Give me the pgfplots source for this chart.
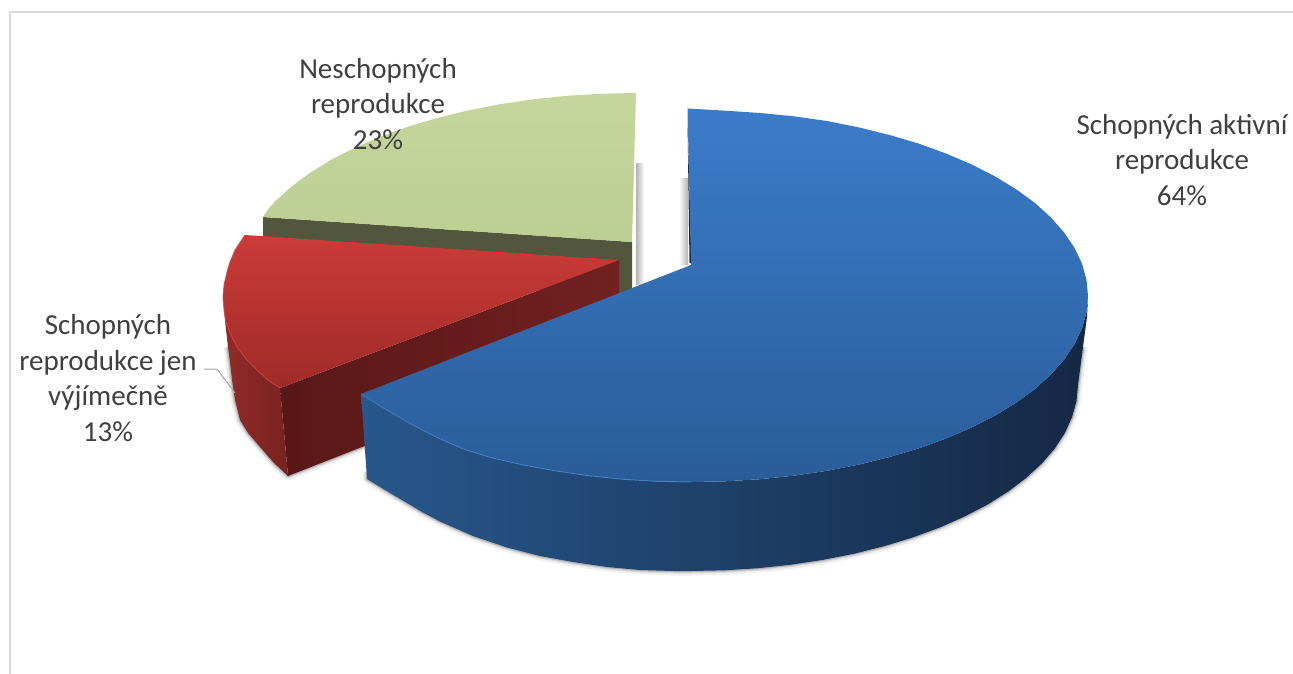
\documentclass[border=0pt]{standalone}
\usepackage{pgfplots}
\pgfplotsset{compat=1.18}
\usepackage{pgfplotstable}
\usepackage{fontspec}
\setmainfont{Carlito}

% Rim outlines of the slices, used for the soft drop shadows
\pgfplotstableread{
x y
367 472
367 479
385 490
407 503
423 512.5
440 521.5
473 536
507 547.5
540 556
573 562
607 567
640 570
673 571
691 571
724.7 570.3
758.2 568.2
791 564.7
823.4 559.8
854.6 553.6
884.5 546.1
913 537.4
939.8 527.5
964.6 516.5
987.5 504.6
1008 491.7
1026.1 478
1041.7 463.6
1054.7 448.6
1064.8 433.1
1072 417.3
1076.5 401.2
1078 385
1083 347
}\blueshadow
\pgfplotstableread{
x y
228 347
230 362
232 380
235 400
240 420
248 433
260 447
274 463
288 476
367 445
}\redshadow

\definecolor{labeltext}{HTML}{404040}
\definecolor{framegray}{HTML}{D9D9D9}
\definecolor{leader}{HTML}{A6A6A6}
\definecolor{greenwall}{HTML}{52563C}
\definecolor{greentop}{RGB}{197,214,157}
\definecolor{greenlow}{RGB}{188,207,146}
\definecolor{redwallA}{RGB}{88,24,23}
\definecolor{redwallB}{RGB}{114,32,32}
\definecolor{redrimA}{RGB}{146,43,40}
\definecolor{redrimB}{RGB}{120,34,32}
\definecolor{redtop}{RGB}{204,59,56}
\definecolor{redlow}{RGB}{158,43,41}
\definecolor{redline}{RGB}{214,64,60}
\definecolor{bluesliver}{RGB}{20,42,72}
\definecolor{bluewallA}{RGB}{39,87,140}
\definecolor{bluewallB}{RGB}{21,44,76}
\definecolor{bluewallC}{RGB}{21,40,68}
\definecolor{bluetop}{RGB}{59,124,202}
\definecolor{bluelow}{RGB}{42,92,153}
\definecolor{blueline}{RGB}{72,132,200}

\begin{document}
\begin{tikzpicture}
\begin{axis}[
  scale only axis, width=1293pt, height=674pt,
  xmin=0, xmax=1293, ymin=0, ymax=674, y dir=reverse,
  axis line style={draw=none}, xtick=\empty, ytick=\empty,
  clip=true,
  every axis plot/.append style={forget plot, mark=none, line join=round},
]
% chart frame
\addplot[framegray, line width=2pt] coordinates {(9.5,680) (9.5,12.5) (1300,12.5)};

% soft shadows behind the inner walls
\addplot[draw=none, left color=black!30, right color=white] coordinates {(636,163) (644,163) (644,284) (636,284)} -- cycle;
\addplot[draw=none, left color=white, right color=black!30] coordinates {(679,178) (688,178) (688,264) (679,264)} -- cycle;

% green slice
\addplot[draw=none, fill=greenwall] coordinates {(263,217) (632,242) (632,292) (600,300) (263,245)} -- cycle;
\addplot[draw=none, top color=greentop, bottom color=greenlow] coordinates {
(636,93) (601.4,93.7) (567,95.8) (533.3,99.3) (500.2,104.2) (468.2,110.4) (437.5,117.9) (408.3,126.6)
(380.8,136.5) (355.3,147.5) (331.9,159.4) (310.8,172.3) (292.2,186) (276.2,200.4) (269.2,207.8) (263,217)
(632,242)} -- cycle;

% red slice
\addplot[black, opacity=.06, line width=9pt] table {\redshadow};
\addplot[black, opacity=.10, line width=5pt] table {\redshadow};
\addplot[black, opacity=.16, line width=2.5pt] table {\redshadow};
\addplot[draw=none, left color=redwallA, right color=redwallB] coordinates {
(619,260) (280,388) (288,476) (367,445) (619,345)} -- cycle;
\addplot[draw=none, left color=redrimA, right color=redrimB] coordinates {
(224,310) (226,322) (230,333) (237,347) (246,359) (257,370) (268,380) (280,388) (288,476)
(274,463) (260,447) (248,433) (240,420) (235,400) (232,380) (230,362) (228,347) (226,330)} -- cycle;
\addplot[draw=none, top color=redtop, bottom color=redlow] coordinates {
(245,235) (239,244) (235,250) (230,262) (227,272) (224,285) (223,297) (224,310) (226,322) (230,333)
(237,347) (246,359) (257,370) (268,380) (280,388) (619,260)} -- cycle;
\addplot[redline, line width=1pt, opacity=.7] coordinates {
(245,235) (239,244) (235,250) (230,262) (227,272) (224,285) (223,297) (224,310) (226,322) (230,333)
(237,347) (246,359) (257,370) (268,380) (280,388)};

% leader line of the red slice's label
\addplot[leader, line width=1pt] coordinates {(204,369) (217,369) (235,393)};

% blue slice
\addplot[black, opacity=.06, line width=9pt] table {\blueshadow};
\addplot[black, opacity=.10, line width=5pt] table {\blueshadow};
\addplot[black, opacity=.16, line width=2.5pt] table {\blueshadow};
\addplot[draw=none, fill=bluesliver] coordinates {(687.5,120) (689.5,263) (691.5,263)} -- cycle;
\addplot[draw=none, left color=bluewallA, middle color=bluewallB, right color=bluewallC] coordinates {
(361,394) (385,409) (410,423.5) (436,437) (463.3,449) (492.5,458) (523.2,465) (555,470.8) (588.3,475.7) (622,479.2) (656.4,481.3) (691,482)
(725.6,481.3) (760,479.2) (793.7,475.7) (827,470.8) (858.8,464.6) (889.5,457) (918.7,448.4) (946,438.5) (971.7,427.5) (995,415.6) (1016.2,402.7)
(1035,389) (1050.8,374.6) (1064,359.6) (1074.5,344.1) (1082,328.3) (1086.5,312.2) (1088,296)
(1087,317) (1083,347) (1078,385) (1076.5,401.2) (1072,417.3) (1064.8,433.1) (1054.7,448.6) (1041.7,463.6) (1026.1,478) (1008,491.7) (987.5,504.6)
(964.6,516.5) (939.8,527.5) (913,537.4) (884.5,546.1) (854.6,553.6) (823.4,559.8) (791,564.7) (758.2,568.2) (724.7,570.3) (691,571)
(673,571) (640,570) (607,567) (573,562) (540,556) (507,547.5) (473,536) (440,521.5) (423,512.5) (407,503) (385,490) (367,479)} -- cycle;
\addplot[draw=none, top color=bluetop, bottom color=bluelow] coordinates {
(691,265) (687.5,108.5) (725.6,110.7) (760,113) (793.7,116.3) (827,121) (858.8,127.4) (889.5,135) (918.7,143.6) (946,153.5) (971.7,164.5)
(995,176.4) (1016.2,189.3) (1035,203) (1050.8,217.4) (1064,232.4) (1074.5,247.9) (1082,263.7) (1086.5,279.8) (1088,296)
(1086.5,312.2) (1082,328.3) (1074.5,344.1) (1064,359.6) (1050.8,374.6) (1035,389) (1016.2,402.7) (995,415.6) (971.7,427.5) (946,438.5) (918.7,448.4)
(889.5,457) (858.8,464.6) (827,470.8) (793.7,475.7) (760,479.2) (725.6,481.3) (691,482) (656.4,481.3) (622,479.2) (588.3,475.7) (555,470.8)
(523.2,465) (492.5,458) (463.3,449) (436,437) (410,423.5) (385,409) (361,394)} -- cycle;
\addplot[blueline, line width=1pt, opacity=.7] coordinates {
(361,394) (385,409) (410,423.5) (436,437) (463.3,449) (492.5,458) (523.2,465) (555,470.8) (588.3,475.7) (622,479.2) (656.4,481.3) (691,482)};

% slice labels
\node[align=center, text=labeltext, font=\fontsize{29}{35.5}\selectfont] at (axis cs:378,104) {Neschopných\\reprodukce\\23\%};
\node[align=center, text=labeltext, font=\fontsize{29}{35.5}\selectfont] at (axis cs:1182,160) {Schopných aktivní\\reprodukce\\64\%};
\node[align=center, text=labeltext, font=\fontsize{29}{35.5}\selectfont] at (axis cs:108,378) {Schopných\\reprodukce jen\\výjímečně\\13\%};
\end{axis}
\end{tikzpicture}
\end{document}
